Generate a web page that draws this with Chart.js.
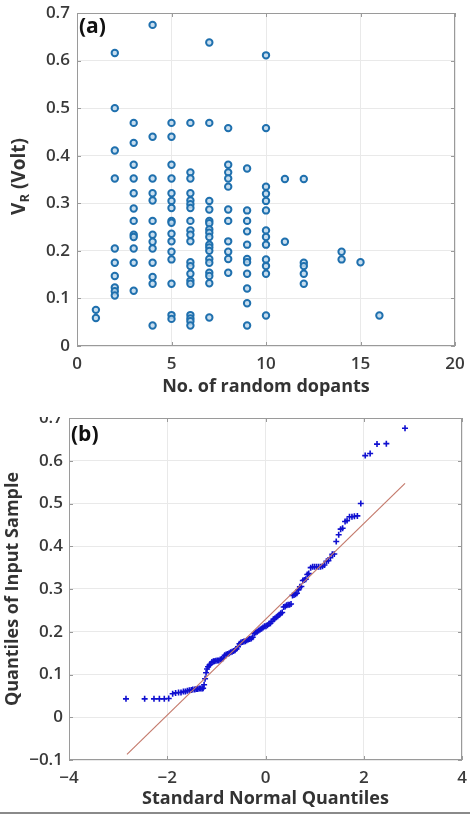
<!DOCTYPE html>
<html>
<head>
<meta charset="utf-8">
<script src="https://cdn.jsdelivr.net/npm/chart.js@4.4.1/dist/chart.umd.min.js"></script>
<style>
  body { margin: 0; background: #fff; width: 470px; height: 815px; position: relative; overflow: hidden; }
  #wrapA { position: absolute; left: 0; top: 0; width: 470px; height: 400px; }
  #wrapB { position: absolute; left: 0; top: 417px; width: 470px; height: 396px; overflow: hidden; }
  #chartB { position: absolute; left: 0; top: -20px; }
  #rule { position: absolute; left: 0; top: 812px; width: 470px; height: 2px; background: #8a8a8a; }
</style>
</head>
<body>
<div id="wrapA"><canvas id="chartA" width="470" height="400"></canvas></div>
<div id="wrapB"><canvas id="chartB" width="470" height="416"></canvas></div>
<div id="rule"></div>
<script>
// ---- panel (a): V_R against number of random dopants ----
const dopantCounts = [1, 2, 3, 4, 5, 6, 7, 8, 9, 10, 11, 12, 14, 15, 16];
const vrByCount = [
  [0.076, 0.059],
  [0.616, 0.5, 0.411, 0.352, 0.205, 0.175, 0.147, 0.123, 0.115, 0.106],
  [0.469, 0.427, 0.381, 0.352, 0.321, 0.289, 0.263, 0.234, 0.229, 0.205, 0.175, 0.116],
  [0.675, 0.44, 0.352, 0.321, 0.306, 0.263, 0.234, 0.219, 0.205, 0.175, 0.145, 0.131, 0.043],
  [0.469, 0.44, 0.381, 0.352, 0.321, 0.305, 0.29, 0.263, 0.259, 0.236, 0.22, 0.198, 0.182, 0.131, 0.065, 0.057],
  [0.469, 0.365, 0.352, 0.321, 0.306, 0.298, 0.29, 0.263, 0.243, 0.234, 0.22, 0.176, 0.168, 0.152, 0.137, 0.131, 0.065, 0.058, 0.052, 0.043],
  [0.638, 0.469, 0.305, 0.287, 0.263, 0.258, 0.245, 0.238, 0.229, 0.213, 0.207, 0.2, 0.183, 0.175, 0.154, 0.147, 0.132, 0.06],
  [0.458, 0.381, 0.365, 0.352, 0.335, 0.287, 0.263, 0.22, 0.198, 0.183, 0.154],
  [0.373, 0.285, 0.263, 0.241, 0.213, 0.183, 0.176, 0.152, 0.121, 0.09, 0.043],
  [0.611, 0.458, 0.335, 0.32, 0.305, 0.285, 0.243, 0.229, 0.213, 0.182, 0.168, 0.152, 0.064],
  [0.351, 0.219],
  [0.351, 0.175, 0.168, 0.152, 0.131],
  [0.198, 0.182],
  [0.176],
  [0.064]
];
const xTicksA = [0, 5, 10, 15, 20];
const yTicksA = [0, 0.1, 0.2, 0.3, 0.4, 0.5, 0.6, 0.7];

// ---- panel (b): normal probability (Q-Q) plot ----
const qqTheoretical = [
  -2.84, -2.46, -2.27, -2.16, -2.06, -1.97,
  -1.89, -1.83, -1.77, -1.72, -1.67, -1.63, -1.59, -1.55, -1.51, -1.48, -1.44, -1.41, -1.38, -1.35, -1.32, -1.29, -1.27,
  -1.25, -1.23, -1.21, -1.19, -1.17,
  -1.14, -1.12, -1.09, -1.06, -1.04, -1.01, -0.98, -0.95, -0.92, -0.89, -0.86,
  -0.83, -0.80, -0.77, -0.74, -0.71, -0.68, -0.65, -0.62, -0.59, -0.56, -0.53, -0.50, -0.47, -0.44, -0.41, -0.38,
  -0.35, -0.32, -0.29, -0.26, -0.23, -0.20, -0.17, -0.14, -0.11, -0.08, -0.05, -0.02, 0.01, 0.04, 0.07, 0.10,
  0.13, 0.16, 0.19, 0.22, 0.25, 0.28, 0.31, 0.34, 0.37, 0.40, 0.43, 0.46, 0.49, 0.52, 0.55, 0.58, 0.61, 0.64,
  0.67, 0.70, 0.73, 0.76, 0.79, 0.82, 0.85, 0.88,
  0.92, 0.96, 1.00, 1.04, 1.08, 1.12, 1.16, 1.20, 1.24, 1.28, 1.32, 1.36, 1.40, 1.44, 1.49, 1.53, 1.57, 1.62,
  1.66, 1.71, 1.76, 1.81, 1.87, 1.94, 2.03, 2.13, 2.27, 2.46, 2.84
];
const qqSample = [
  0.043, 0.043, 0.043, 0.043, 0.043, 0.044,
  0.055, 0.057, 0.058, 0.058, 0.060, 0.060, 0.062, 0.063, 0.064, 0.065, 0.065, 0.066, 0.066, 0.067, 0.067, 0.067, 0.068,
  0.076, 0.090, 0.104, 0.113, 0.118,
  0.122, 0.124, 0.129, 0.131, 0.131, 0.132, 0.133, 0.133, 0.135, 0.136, 0.138,
  0.145, 0.147, 0.148, 0.150, 0.152, 0.153, 0.155, 0.157, 0.160, 0.165, 0.172, 0.175, 0.176, 0.177, 0.178, 0.180,
  0.182, 0.183, 0.184, 0.187, 0.196, 0.198, 0.200, 0.203, 0.205, 0.207, 0.210, 0.213, 0.213, 0.215, 0.219, 0.220,
  0.224, 0.229, 0.231, 0.234, 0.236, 0.240, 0.243, 0.245, 0.258, 0.259, 0.262, 0.263, 0.263, 0.265, 0.285, 0.286, 0.288, 0.290,
  0.298, 0.305, 0.306, 0.320, 0.321, 0.323, 0.334, 0.336,
  0.350, 0.352, 0.352, 0.352, 0.352, 0.352, 0.353, 0.356, 0.365, 0.366, 0.373, 0.381, 0.382, 0.411, 0.427, 0.440, 0.442, 0.458,
  0.460, 0.469, 0.469, 0.470, 0.471, 0.500, 0.612, 0.617, 0.639, 0.640, 0.676
];
const refLineX = [-2.82, 2.84];
const refLineY = [-0.087, 0.547];
const xTicksB = [-4, -2, 0, 2, 4];
const yTicksB = [-0.1, 0, 0.1, 0.2, 0.3, 0.4, 0.5, 0.6, 0.7];

const family = "'Open Sans', 'DejaVu Sans', sans-serif";
const tickFont = { family: family, size: 17, weight: '600' };
const titleFont = { family: family, size: 18, weight: '700' };
const minus = v => String(+v.toFixed(1)).replace('-', '\u2212');

// box around the plot area with small inward tick marks, plus the panel tag
const framePlugin = {
  id: 'frame',
  beforeDatasetsDraw(chart) {
    const { ctx, chartArea: a, scales } = chart;
    ctx.save();
    ctx.strokeStyle = '#9a9a9a';
    ctx.lineWidth = 1;
    ctx.strokeRect(a.left + 0.5, a.top + 0.5, a.right - a.left - 1, a.bottom - a.top - 1);
    ctx.beginPath();
    scales.x.ticks.forEach(t => {
      const px = Math.round(scales.x.getPixelForValue(t.value)) + 0.5;
      ctx.moveTo(px, a.bottom); ctx.lineTo(px, a.bottom - 4);
      ctx.moveTo(px, a.top); ctx.lineTo(px, a.top + 4);
    });
    scales.y.ticks.forEach(t => {
      const py = Math.round(scales.y.getPixelForValue(t.value)) + 0.5;
      ctx.moveTo(a.left, py); ctx.lineTo(a.left + 4, py);
      ctx.moveTo(a.right, py); ctx.lineTo(a.right - 4, py);
    });
    ctx.stroke();
    ctx.restore();
  },
  afterDraw(chart, args, opts) {
    const { ctx, chartArea: a } = chart;
    ctx.save();
    ctx.fillStyle = '#111';
    ctx.font = "700 21px " + family;
    ctx.textBaseline = 'top';
    ctx.fillText(opts.tag, a.left + 2, a.top + opts.tagDy);
    if (opts.vr) {
      // rotated y title with subscript: V_R (Volt)
      const big = "700 19px " + family, small = "700 13px " + family;
      ctx.font = big; const wV = ctx.measureText('V').width;
      const wRest = ctx.measureText(' (Volt)').width;
      ctx.font = small; const wR = ctx.measureText('R').width;
      const total = wV + wR + wRest;
      ctx.translate(20, (a.top + a.bottom) / 2 - 3);
      ctx.rotate(-Math.PI / 2);
      ctx.fillStyle = '#333';
      ctx.textBaseline = 'middle';
      let x0 = -total / 2;
      ctx.font = big; ctx.fillText('V', x0, 0); x0 += wV;
      ctx.font = small; ctx.fillText('R', x0, 5); x0 += wR;
      ctx.font = big; ctx.fillText(' (Volt)', x0, 0);
    }
    ctx.restore();
  }
};

function axis(opts) {
  return Object.assign({
    type: 'linear',
    grid: { color: '#e9e9e9', drawTicks: false },
    border: { display: false },
    ticks: { color: '#3a3a3a', font: tickFont, autoSkip: false, maxRotation: 0 }
  }, opts);
}

const pointsA = [];
dopantCounts.forEach((n, i) => vrByCount[i].forEach(v => pointsA.push({ x: n, y: v })));

new Chart(document.getElementById('chartA'), {
  type: 'scatter',
  data: {
    datasets: [{
      data: pointsA,
      pointStyle: 'circle',
      pointRadius: 3.2,
      borderWidth: 2,
      borderColor: '#1f70ae',
      backgroundColor: 'rgba(190,216,236,0.85)'
    }]
  },
  options: {
    responsive: false,
    animation: false,
    layout: { padding: { top: 13, right: 15, bottom: 0, left: 0 } },
    plugins: { legend: { display: false }, tooltip: { enabled: false }, frame: { tag: '(a)', tagDy: 4, vr: true } },
    scales: {
      x: axis({
        min: 0, max: 20,
        afterBuildTicks: s => { s.ticks = xTicksA.map(v => ({ value: v })); },
        afterFit: s => { s.height = 54; s.paddingLeft = 0; s.paddingRight = 0; },
        ticks: { color: '#3a3a3a', font: tickFont, autoSkip: false, maxRotation: 0, padding: 8, callback: v => minus(v) },
        title: { display: true, text: 'No. of random dopants', color: '#333', font: titleFont, padding: { top: 0, bottom: 2 } }
      }),
      y: axis({
        min: 0, max: 0.7,
        afterBuildTicks: s => { s.ticks = yTicksA.map(v => ({ value: v })); },
        afterFit: s => { s.width = 77; s.paddingTop = 0; s.paddingBottom = 0; },
        ticks: { color: '#3a3a3a', font: tickFont, autoSkip: false, padding: 7, callback: v => minus(v) }
      })
    }
  },
  plugins: [framePlugin]
});

new Chart(document.getElementById('chartB'), {
  type: 'scatter',
  data: {
    datasets: [{
      type: 'line',
      data: refLineX.map((x, i) => ({ x: x, y: refLineY[i] })),
      borderColor: '#c47a6c',
      borderWidth: 1.2,
      pointRadius: 0,
      fill: false
    }, {
      data: qqTheoretical.map((x, i) => ({ x: x, y: qqSample[i] })),
      pointStyle: 'cross',
      pointRadius: 3,
      borderWidth: 1.6,
      borderColor: '#1010d0',
      backgroundColor: '#1010d0'
    }]
  },
  options: {
    responsive: false,
    animation: false,
    layout: { padding: { top: 21, right: 8, bottom: 0, left: 0 } },
    plugins: { legend: { display: false }, tooltip: { enabled: false }, frame: { tag: '(b)', tagDy: 7, vr: false } },
    scales: {
      x: axis({
        min: -4, max: 4,
        afterBuildTicks: s => { s.ticks = xTicksB.map(v => ({ value: v })); },
        afterFit: s => { s.height = 53; s.paddingLeft = 0; s.paddingRight = 0; },
        ticks: { color: '#3a3a3a', font: tickFont, autoSkip: false, maxRotation: 0, padding: 8, callback: v => minus(v) },
        title: { display: true, text: 'Standard Normal Quantiles', color: '#333', font: titleFont, padding: { top: 0, bottom: 3 } }
      }),
      y: axis({
        min: -0.1, max: 0.7,
        afterBuildTicks: s => { s.ticks = yTicksB.map(v => ({ value: v })); },
        afterFit: s => { s.width = 69; s.paddingTop = 0; s.paddingBottom = 0; },
        ticks: { color: '#3a3a3a', font: tickFont, autoSkip: false, padding: 6, callback: v => minus(v) },
        title: { display: true, text: 'Quantiles of Input Sample', color: '#333', font: titleFont, padding: { top: 2, bottom: 0 } }
      })
    }
  },
  plugins: [framePlugin]
});
</script>
</body>
</html>
